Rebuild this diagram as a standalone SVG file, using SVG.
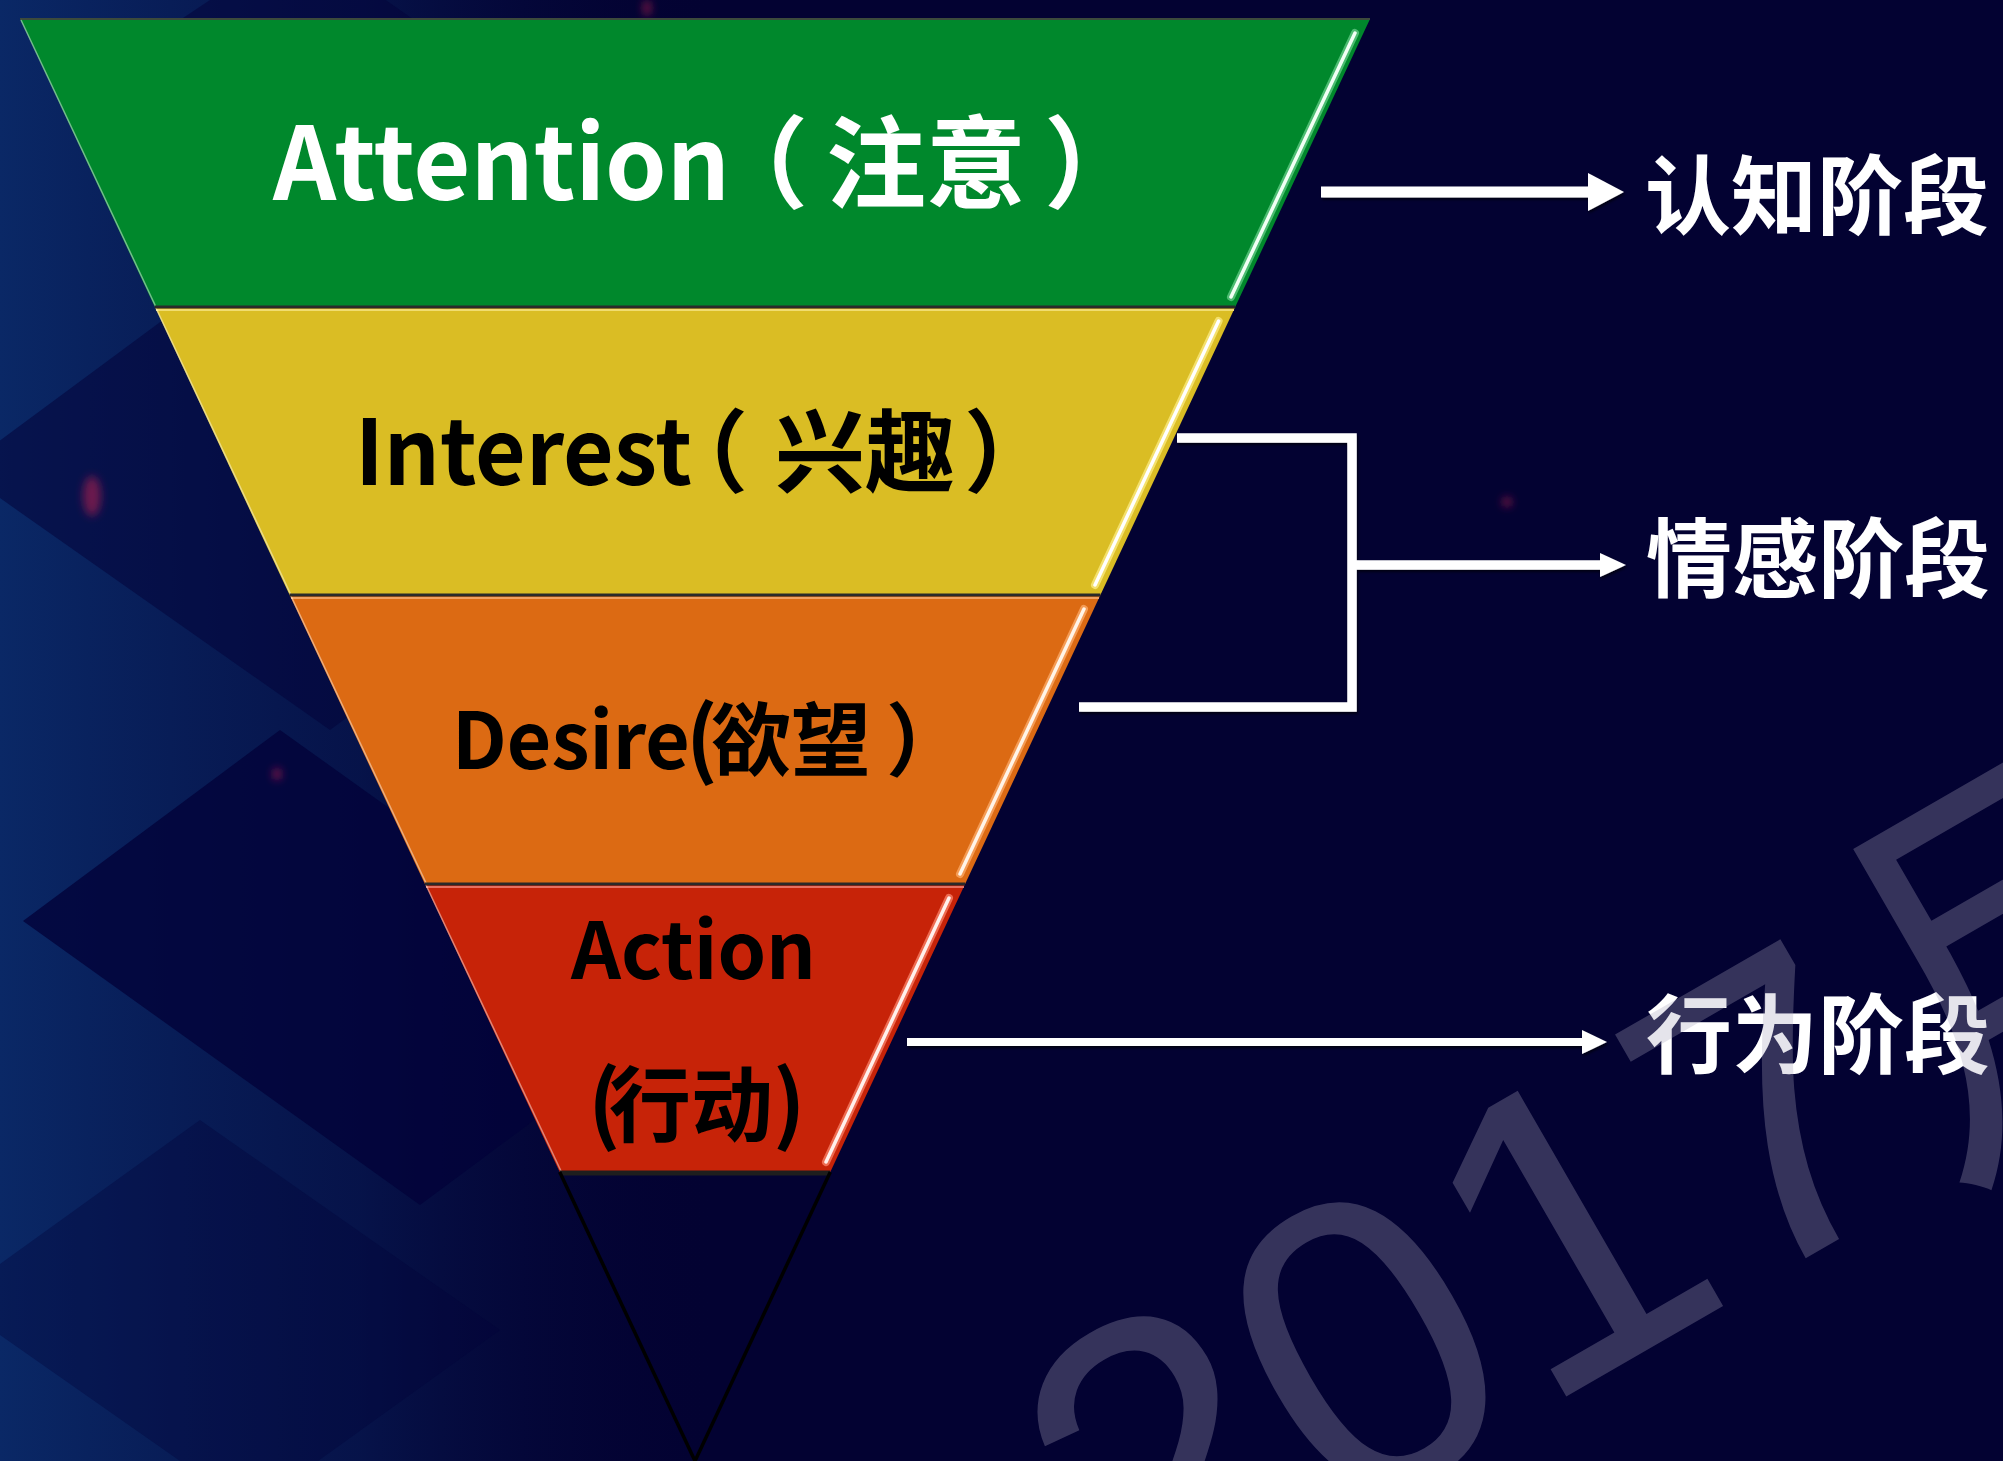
<svg xmlns="http://www.w3.org/2000/svg" width="2003" height="1461" viewBox="0 0 2003 1461">
<defs>
<style>
.lbl{font-family:"Noto Sans CJK SC","Noto Sans",sans-serif;font-weight:700;text-spacing-trim:space-all}
.stage{font-family:"Noto Sans CJK SC",sans-serif;font-weight:700;font-size:86px;fill:#ffffff}
.wm{font-family:"Liberation Sans","Noto Sans CJK SC",sans-serif;font-weight:400;font-size:420px;fill:rgb(170,166,188);fill-opacity:0.3}
.conn{fill:none;stroke:#ffffff;stroke-linejoin:miter}
.sep{stroke:#2a2a2a;stroke-width:3}
.edgeL{stroke:#ffffff;stroke-opacity:0.45;stroke-width:1.5;fill:none}
.glow{stroke-linecap:round;fill:none}
</style>
<linearGradient id="bgL" x1="0" y1="0" x2="1" y2="0">
<stop offset="0" stop-color="#0a2866"/>
<stop offset="0.5" stop-color="#081c56" stop-opacity="0.65"/>
<stop offset="1" stop-color="#030232" stop-opacity="0"/>
</linearGradient>
<filter id="sh" x="-5%" y="-60%" width="110%" height="220%">
<feDropShadow dx="1" dy="2" stdDeviation="1.5" flood-color="#000000" flood-opacity="0.7"/>
</filter>
<filter id="blur" x="-100%" y="-100%" width="300%" height="300%"><feGaussianBlur stdDeviation="4"/></filter>
</defs>

<g id="background">
<rect x="0" y="0" width="2003" height="1461" fill="#030232"/>
<rect x="0" y="0" width="720" height="1461" fill="url(#bgL)"/>
<polygon points="23,921 280,730 677,1014 420,1205" fill="#03033a" fill-opacity="0.8"/>
<polygon points="-40,470 190,300 560,560 330,730" fill="#03033a" fill-opacity="0.55"/>
<polygon points="120,60 300,-60 600,150 420,280" fill="#03033a" fill-opacity="0.55"/>
<polygon points="-50,1300 200,1120 500,1330 250,1510" fill="#03033a" fill-opacity="0.35"/>
<ellipse cx="92" cy="496" rx="9" ry="20" fill="#b02050" fill-opacity="0.6" filter="url(#blur)"/>
<ellipse cx="277" cy="774" rx="4" ry="6" fill="#c02050" fill-opacity="0.7" filter="url(#blur)"/>
<ellipse cx="1507" cy="502" rx="5" ry="5" fill="#c02050" fill-opacity="0.6" filter="url(#blur)"/>
<ellipse cx="647" cy="8" rx="4" ry="8" fill="#c02050" fill-opacity="0.6" filter="url(#blur)"/>
</g>

<g id="node-attention">
<polygon points="20,19 1370,19 1235.2,307 154.8,307" fill="#00882c"/>
<line x1="20" y1="19" x2="1370" y2="19" stroke="#3c4a3c" stroke-width="2"/>
<line class="edgeL" x1="21" y1="20" x2="155.5" y2="306"/>
<line class="glow" x1="1355" y1="33" x2="1231" y2="297" stroke="#7fe0a0" stroke-width="8" stroke-opacity="0.6"/>
<line class="glow" x1="1355" y1="33" x2="1231" y2="297" stroke="#f0fff4" stroke-width="3.5"/>
<text class="lbl" y="200" fill="#ffffff"><tspan x="273" font-size="101" textLength="457" lengthAdjust="spacingAndGlyphs">Attention</tspan><tspan x="708" font-size="100">（</tspan><tspan x="826" font-size="100">注意</tspan><tspan x="1044" font-size="100">）</tspan></text>
</g>

<g id="node-interest">
<polygon points="154.8,307 1235.2,307 1100.4,595 289.6,595" fill="#dabd24"/>
<line x1="156" y1="310" x2="1234" y2="310" stroke="#f0dc70" stroke-width="2"/>
<line class="edgeL" x1="156" y1="308" x2="290.5" y2="594"/>
<line class="glow" x1="1218.6" y1="321" x2="1095" y2="585" stroke="#fff08a" stroke-width="8" stroke-opacity="0.7"/>
<line class="glow" x1="1218.6" y1="321" x2="1095" y2="585" stroke="#ffffff" stroke-width="3.5"/>
<text class="lbl" y="485" fill="#000000"><tspan x="355" font-size="91" textLength="337" lengthAdjust="spacingAndGlyphs">Interest</tspan><tspan x="658" font-size="90">（</tspan><tspan x="775" font-size="90">兴趣</tspan><tspan x="964" font-size="90">）</tspan></text>
</g>

<g id="node-desire">
<polygon points="289.6,595 1100.4,595 965.1,884 424.9,884" fill="#dc6a13"/>
<line x1="291" y1="598" x2="1099" y2="598" stroke="#f0a060" stroke-width="2"/>
<line class="edgeL" x1="291" y1="596" x2="426" y2="883"/>
<line class="glow" x1="1084" y1="609" x2="960" y2="874" stroke="#ffb070" stroke-width="8" stroke-opacity="0.7"/>
<line class="glow" x1="1084" y1="609" x2="960" y2="874" stroke="#fff4e8" stroke-width="3.5"/>
<text class="lbl" y="769" fill="#000000"><tspan x="452" font-size="78" textLength="238" lengthAdjust="spacingAndGlyphs">Desire</tspan><tspan x="686" font-size="84">(</tspan><tspan x="711" font-size="80">欲望</tspan><tspan x="886" font-size="80">）</tspan></text>
</g>

<g id="node-action">
<polygon points="424.9,884 965.1,884 830.3,1172 559.7,1172" fill="#c72308"/>
<line x1="426" y1="887" x2="964" y2="887" stroke="#e87060" stroke-width="2"/>
<line class="edgeL" x1="426" y1="885" x2="561" y2="1171"/>
<line class="glow" x1="949" y1="898" x2="826" y2="1162" stroke="#ff8a70" stroke-width="8" stroke-opacity="0.7"/>
<line class="glow" x1="949" y1="898" x2="826" y2="1162" stroke="#fff0ec" stroke-width="3.5"/>
<text class="lbl" y="979" fill="#000000"><tspan x="571" font-size="78" textLength="245" lengthAdjust="spacingAndGlyphs">Action</tspan></text>
<text class="lbl" y="1135" fill="#000000"><tspan x="588" font-size="86">(</tspan><tspan x="609" font-size="82">行动</tspan><tspan x="773" font-size="86">)</tspan></text>
</g>

<g id="separators">
<line class="sep" x1="154.8" y1="307" x2="1235.2" y2="307"/>
<line class="sep" x1="289.6" y1="595" x2="1100.4" y2="595"/>
<line class="sep" x1="424.9" y1="884" x2="965.1" y2="884"/>
<line x1="559.7" y1="1173" x2="830.3" y2="1173" stroke="#1e1e1e" stroke-width="5"/>
</g>

<g id="node-tip">
<polyline points="559.7,1172 695,1461 830.3,1172" fill="none" stroke="#000000" stroke-width="3.5"/>
</g>

<g id="connectors" filter="url(#sh)">
<line class="conn" x1="1321" y1="192" x2="1592" y2="192" stroke-width="11"/>
<polygon points="1588,173 1624,192 1588,211" fill="#ffffff"/>
<polyline class="conn" points="1177,438 1352,438 1352,707 1079,707" stroke-width="9.5"/>
<line class="conn" x1="1352" y1="565" x2="1603" y2="565" stroke-width="9.5"/>
<polygon points="1600,553 1626,565 1600,577" fill="#ffffff"/>
<line class="conn" x1="907" y1="1042" x2="1585" y2="1042" stroke-width="8"/>
<polygon points="1582,1030 1607,1042 1582,1054" fill="#ffffff"/>
</g>

<g id="node-stage-cognitive"><text class="stage" x="1645" y="228">认知阶段</text></g>
<g id="node-stage-emotional"><text class="stage" x="1646" y="591">情感阶段</text></g>
<g id="node-stage-behavior"><text class="stage" x="1646" y="1067">行为阶段</text></g>

<g id="watermark">
<text class="wm" transform="translate(1134,1646) rotate(-30)">2017月</text>
</g>
</svg>
